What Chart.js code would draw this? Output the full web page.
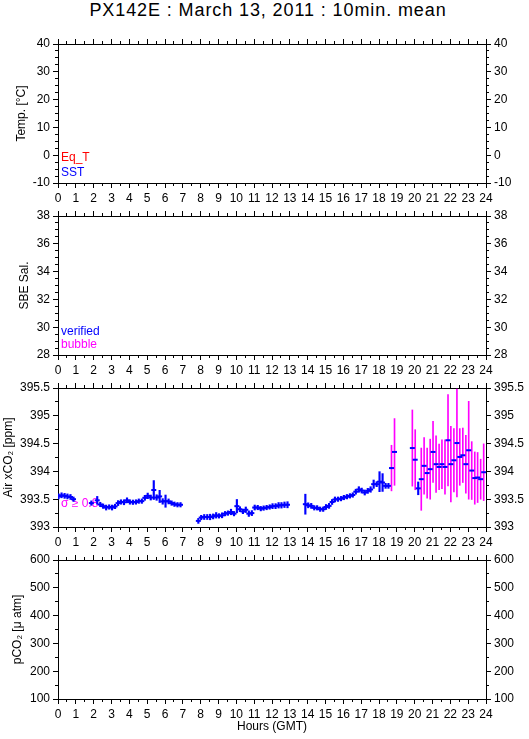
<!DOCTYPE html>
<html>
<head>
<meta charset="utf-8">
<title>PX142E : March 13, 2011 : 10min. mean</title>
<script src="https://cdn.jsdelivr.net/npm/chart.js@4.4.1/dist/chart.umd.min.js"></script>
<style>
  html, body { margin: 0; padding: 0; background: #fff; }
  #page { position: relative; width: 529px; height: 739px; overflow: hidden; }
  #title { position: absolute; top: 0px; left: 0; width: 536px; text-align: center;
           font: 18px "Liberation Sans", Arial, sans-serif; letter-spacing: 0.9px; color: #000; }
  canvas { position: absolute; left: 0; }
</style>
</head>
<body>
<div id="page">
  <div id="title">PX142E : March 13, 2011 : 10min. mean</div>
  <canvas id="tempChart" width="529" height="175" style="top:32px"></canvas>
  <canvas id="salChart" width="529" height="175" style="top:204px"></canvas>
  <canvas id="co2Chart" width="529" height="175" style="top:376px"></canvas>
  <canvas id="pco2Chart" width="529" height="191" style="top:548px"></canvas>
</div>
<script>
// === axis ranges ===
const hourRange = [0, 24];
const tempRange = [-10, 40];
const salRange = [28, 38];
const co2Range = [393, 395.5];
const pco2Range = [100, 600];

// === Air xCO2, verified (blue): hour GMT, mean ppm, half error bar ===
const verifiedHours = [0.03, 0.20, 0.37, 0.53, 0.70, 0.87,
  1.87, 2.20, 2.37, 2.53, 2.70, 2.87, 3.03, 3.20, 3.37, 3.53, 3.70, 3.87,
  4.03, 4.20, 4.37, 4.53, 4.70, 4.87, 5.03, 5.20, 5.37, 5.53, 5.70, 5.87,
  6.03, 6.20, 6.37, 6.53, 6.70, 6.87,
  7.87, 8.03, 8.20, 8.37, 8.53, 8.70, 8.87, 9.03, 9.20, 9.37, 9.53, 9.70, 9.87,
  10.03, 10.20, 10.37, 10.53, 10.70, 10.87, 11.03, 11.20, 11.37, 11.53, 11.70, 11.87,
  12.03, 12.20, 12.37, 12.53, 12.70, 12.87,
  13.87, 14.03, 14.20, 14.37, 14.53, 14.70, 14.87, 15.03, 15.20, 15.37, 15.53, 15.70, 15.87,
  16.03, 16.20, 16.37, 16.53, 16.70, 16.87, 17.03, 17.20, 17.37, 17.53, 17.70, 17.87,
  18.03, 18.20, 18.37, 18.53, 20.20];
const verifiedCO2 = [393.55, 393.57, 393.56, 393.55, 393.54, 393.50,
  393.43, 393.48, 393.405, 393.375, 393.35, 393.36, 393.35, 393.37, 393.43, 393.45, 393.445, 393.48,
  393.45, 393.445, 393.45, 393.465, 393.465, 393.525, 393.56, 393.53, 393.665, 393.53, 393.55, 393.46,
  393.465, 393.46, 393.43, 393.41, 393.40, 393.40,
  393.11, 393.17, 393.18, 393.18, 393.18, 393.19, 393.21, 393.20, 393.21, 393.24, 393.25, 393.27, 393.24,
  393.375, 393.32, 393.28, 393.31, 393.24, 393.25, 393.35, 393.35, 393.33, 393.34, 393.35, 393.36,
  393.375, 393.375, 393.39, 393.39, 393.40, 393.40,
  393.41, 393.39, 393.38, 393.345, 393.345, 393.32, 393.32, 393.36, 393.38, 393.45, 393.495, 393.50, 393.51,
  393.53, 393.545, 393.56, 393.575, 393.635, 393.675, 393.655, 393.62, 393.65, 393.675, 393.77, 393.77,
  393.815, 393.80, 393.74, 393.74, 393.695];
const verifiedErr = [0.045, 0.045, 0.045, 0.045, 0.045, 0.04,
  0.04, 0.07, 0.04, 0.04, 0.045, 0.04, 0.045, 0.04, 0.045, 0.04, 0.045, 0.045,
  0.04, 0.04, 0.04, 0.04, 0.04, 0.045, 0.05, 0.045, 0.17, 0.05, 0.11, 0.05,
  0.11, 0.045, 0.04, 0.04, 0.04, 0.04,
  0.045, 0.04, 0.045, 0.045, 0.05, 0.045, 0.05, 0.04, 0.045, 0.04, 0.04, 0.05, 0.04,
  0.12, 0.045, 0.04, 0.05, 0.05, 0.045, 0.045, 0.04, 0.04, 0.04, 0.04, 0.04,
  0.045, 0.045, 0.05, 0.05, 0.05, 0.055,
  0.18, 0.045, 0.045, 0.04, 0.04, 0.04, 0.04, 0.045, 0.045, 0.045, 0.045, 0.04, 0.04,
  0.04, 0.04, 0.04, 0.04, 0.045, 0.05, 0.045, 0.045, 0.045, 0.05, 0.075, 0.045,
  0.18, 0.16, 0.045, 0.045, 0.115];

// === Air xCO2, bubble flagged (magenta bars) ===
const bubbleHours = [18.70, 18.87, 19.87, 20.03, 20.37, 20.53, 20.70, 20.87, 21.03, 21.20, 21.37, 21.53, 21.70,
  21.87, 22.03, 22.20, 22.37, 22.53, 22.70, 22.87, 23.03, 23.20, 23.37, 23.53, 23.70, 23.87];
const bubbleCO2 = [394.06, 394.35, 394.42, 394.21, 393.86, 394.10, 393.97, 394.04, 394.35, 394.13, 394.08, 394.13, 394.08,
  394.56, 394.13, 394.20, 394.51, 394.26, 394.29, 394.13, 394.38, 394.015, 393.88, 393.89, 393.86, 393.985];
const bubbleErr = [0.41, 0.60, 0.685, 0.54, 0.56, 0.51, 0.45, 0.54, 0.55, 0.51, 0.41, 0.44, 0.49,
  0.82, 0.68, 0.57, 0.97, 0.51, 0.49, 0.52, 0.88, 0.52, 0.47, 0.45, 0.36, 0.51];

const BLUE = "#0000ff", MAGENTA = "#ff00ff", RED = "#ff0000";
const FAMILY = '"Liberation Sans", Arial, Helvetica, sans-serif';
const FONT = { family: FAMILY, size: 12, lineHeight: 1.2 };

// small coloured labels in the lower left corner of a panel
const innerLabels = {
    id: "innerLabels",
    beforeDatasetsDraw(chart, args, opts) {
        const { ctx, chartArea } = chart;
        ctx.save();
        ctx.font = "12px " + FAMILY;
        ctx.textBaseline = "middle";
        ctx.textAlign = "left";
        for (const item of opts.items || []) {
            ctx.fillStyle = item.color;
            ctx.fillText(item.text, chartArea.left + 3, chartArea.bottom - item.up);
        }
        ctx.restore();
    }
};

function buildScales(p) {
    const tickGrid = len => ({ drawOnChartArea: false, drawTicks: true, tickLength: len, tickColor: "#000", tickWidth: 1, offset: false });
    const label = v => String(+Number(v).toFixed(2));
    const setH = h => s => { s.height = h; };
    const setW = w => s => { s.width = w; };
    const xBase = { type: "linear", min: hourRange[0], max: hourRange[1], offset: false };
    const yBase = { type: "linear", min: p.range[0], max: p.range[1], beginAtZero: false };
    const black = { color: "#000", width: 1 };
    const hidden = { display: false };

    return {
        x: { ...xBase, position: "bottom", weight: 2, grid: tickGrid(5), border: black,
            ticks: { stepSize: 1, autoSkip: false, maxRotation: 0, minRotation: 0, padding: 3, color: "#000", font: FONT, callback: label },
            title: { display: !!p.xTitle, text: p.xTitle || "", color: "#000", font: FONT, padding: { top: 0, bottom: 5 } },
            afterFit: setH(p.bottomH) },
        xMinor: { ...xBase, position: "bottom", weight: 1, grid: tickGrid(3), border: hidden,
            ticks: { stepSize: 0.5, display: false }, afterFit: setH(0) },
        xTop: { ...xBase, position: "top", weight: 2, grid: tickGrid(5), border: black,
            ticks: { stepSize: 1, display: false }, afterFit: setH(12) },
        xTopMinor: { ...xBase, position: "top", weight: 1, grid: tickGrid(3), border: hidden,
            ticks: { stepSize: 0.5, display: false }, afterFit: setH(0) },
        y: { ...yBase, position: "left", weight: 2, grid: tickGrid(5), border: black,
            ticks: { stepSize: p.major, padding: 3, color: "#000", font: FONT, callback: label },
            title: { display: true, text: p.yTitle, color: "#000", font: FONT, padding: { top: p.titlePad, bottom: 0 } },
            afterFit: setW(58) },
        yMinor: { ...yBase, position: "left", weight: 1, grid: tickGrid(3), border: hidden,
            ticks: { stepSize: p.minor, display: false }, afterFit: setW(0) },
        yRight: { ...yBase, position: "right", weight: 2, grid: tickGrid(5), border: black,
            ticks: { stepSize: p.major, padding: 3, color: "#000", font: FONT, callback: label },
            afterFit: setW(43) },
        yRightMinor: { ...yBase, position: "right", weight: 1, grid: tickGrid(3), border: hidden,
            ticks: { stepSize: p.minor, display: false }, afterFit: setW(0) }
    };
}

function makePanel(canvasId, p) {
    return new Chart(document.getElementById(canvasId), {
        type: "scatter",
        data: { datasets: p.datasets || [] },
        options: {
            responsive: false,
            animation: false,
            events: [],
            devicePixelRatio: 1,
            layout: { padding: 0 },
            plugins: {
                legend: { display: false },
                tooltip: { enabled: false },
                innerLabels: { items: p.labels || [] }
            },
            scales: buildScales(p)
        },
        plugins: [innerLabels]
    });
}

function markerSet(hours, values) {
    return {
        type: "scatter",
        data: hours.map((h, i) => ({ x: h, y: values[i] })),
        pointStyle: "line", pointRadius: 2.5, pointBorderWidth: 2,
        borderColor: BLUE, backgroundColor: BLUE,
        xAxisID: "x", yAxisID: "y", order: 1
    };
}

function errorSet(hours, values, errs, color, width) {
    return {
        type: "bar",
        data: hours.map((h, i) => ({ x: h, y: [values[i] - errs[i], values[i] + errs[i]] })),
        backgroundColor: color, borderWidth: 0, barThickness: width, grouped: false,
        xAxisID: "x", yAxisID: "y", order: 2
    };
}

// === Panel 1: temperatures (no data this day) ===
makePanel("tempChart", {
    range: tempRange, major: 10, minor: 2.5, yTitle: "Temp. [°C]", titlePad: 14, bottomH: 24,
    labels: [{ text: "Eq_T", color: RED, up: 25 }, { text: "SST", color: BLUE, up: 10 }]
});

// === Panel 2: salinity (no data this day) ===
makePanel("salChart", {
    range: salRange, major: 2, minor: 0.5, yTitle: "SBE Sal.", titlePad: 17, bottomH: 24,
    labels: [{ text: "verified", color: BLUE, up: 23 }, { text: "bubble", color: MAGENTA, up: 10 }]
});

// === Panel 3: air xCO2 ===
makePanel("co2Chart", {
    range: co2Range, major: 0.5, minor: 0.25, yTitle: "Air xCO₂ [ppm]", titlePad: 1, bottomH: 24,
    labels: [{ text: "σ ≥ 0.8", color: MAGENTA, up: 23 }],
    datasets: [
        markerSet(verifiedHours, verifiedCO2),
        markerSet(bubbleHours, bubbleCO2),
        errorSet(verifiedHours, verifiedCO2, verifiedErr, BLUE, 1.5),
        errorSet(bubbleHours, bubbleCO2, bubbleErr, MAGENTA, 1)
    ]
});

// === Panel 4: pCO2 (no data this day) ===
makePanel("pco2Chart", {
    range: pco2Range, major: 100, minor: 50, yTitle: "pCO₂ [μ atm]", titlePad: 10, bottomH: 40,
    xTitle: "Hours (GMT)"
});
</script>
</body>
</html>
